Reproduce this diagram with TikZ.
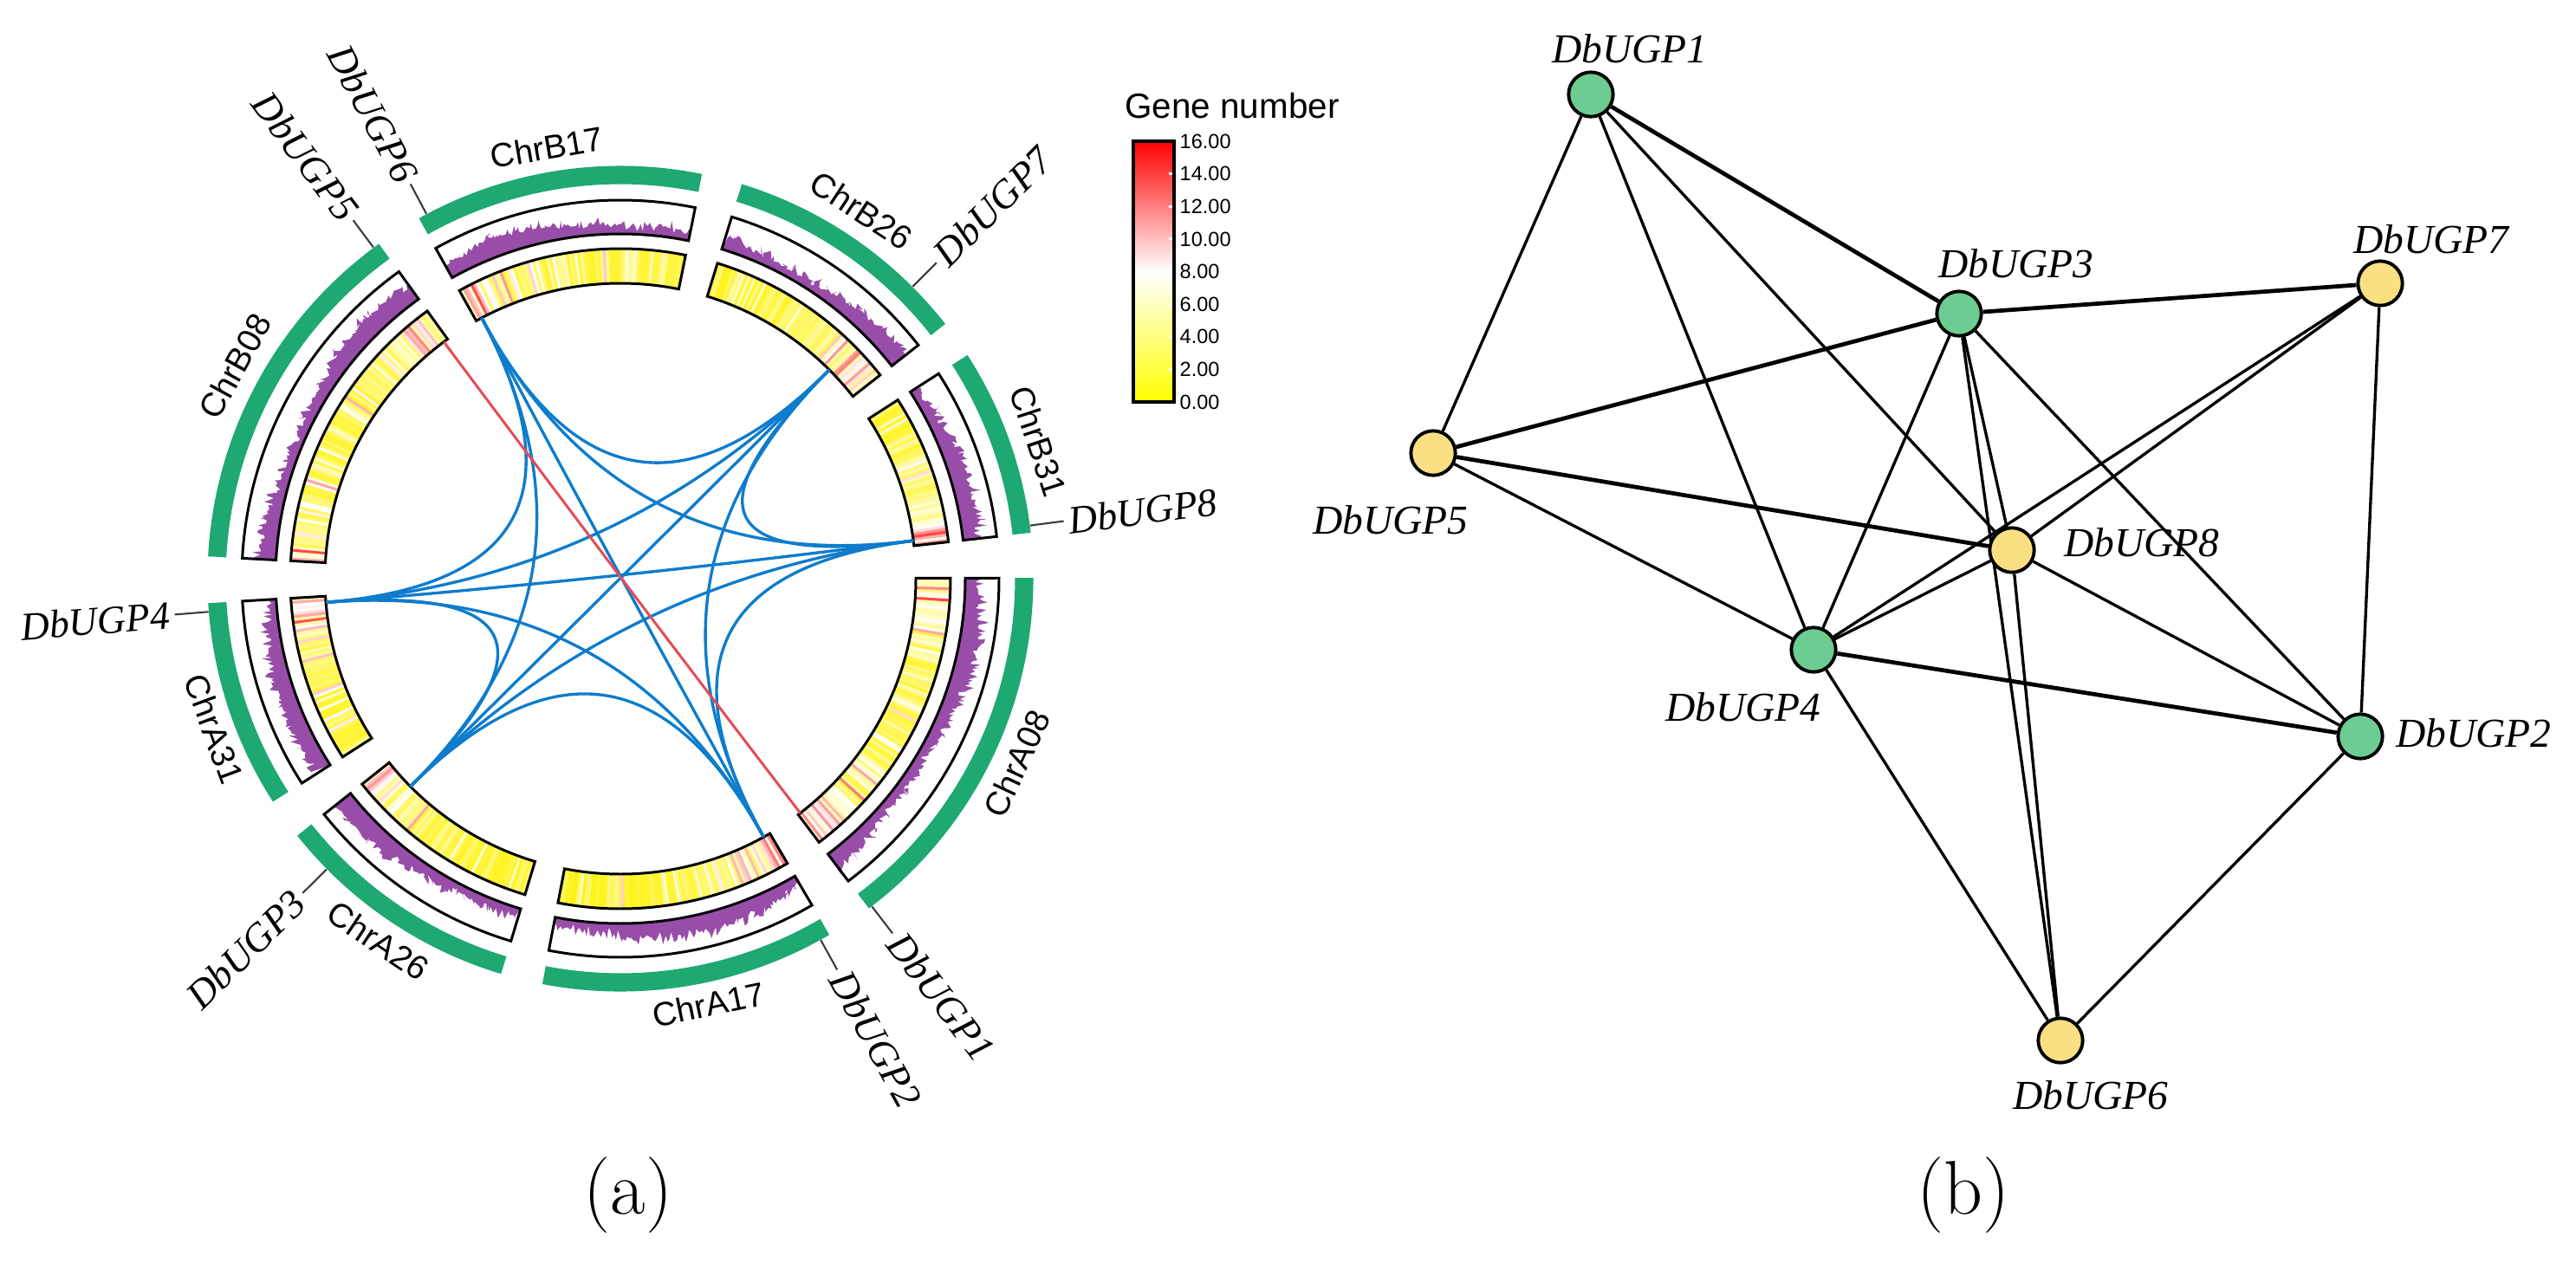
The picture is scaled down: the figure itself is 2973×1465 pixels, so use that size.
\documentclass[tikz,border=0pt]{standalone}
\usepackage{fontspec}
\setsansfont{Liberation Sans}
\newfontfamily\tnr{Liberation Serif}
\usetikzlibrary{calc}
\pgfdeclarelayer{bg}
\pgfdeclarelayer{edges}
\pgfsetlayers{bg,edges,main}
\definecolor{chrgreen}{RGB}{30,168,114}
\definecolor{linkblue}{RGB}{14,124,204}
\definecolor{linkred}{RGB}{228,76,86}
\definecolor{histpurple}{RGB}{152,78,168}
\definecolor{nodegreen}{RGB}{108,204,146}
\definecolor{nodeyellow}{RGB}{250,224,130}
\definecolor{tickgray}{RGB}{60,60,60}

% heat-map track: lo hi hot-at-lo hot-at-hi
\newcommand\heattrack[4]{%
  \pgfmathtruncatemacro\hn{((#2)-(#1))/0.5-1}%
  \foreach \i in {0,...,\hn}{%
    \pgfmathsetmacro\ta{#1+0.5*\i}%
    \pgfmathsetmacro\tb{min(\ta+0.6,#2)}%
    \pgfmathsetmacro\da{\ta-(#1)}%
    \pgfmathsetmacro\db{(#2)-\ta}%
    \pgfmathsetmacro\hv{min(0.86,0.03+0.36*rnd^4+0.3*rnd^9+#3*exp(-\da/11)*(0.2+0.55*rnd)+#4*exp(-\db/11)*(0.2+0.55*rnd))}%
    \ifdim\hv pt<0.5pt
      \pgfmathsetmacro\hw{200*\hv}%
      \fill[white!\hw!yellow] (\ta:341) -- (\ta:381) -- (\tb:381) -- (\tb:341) -- cycle;
    \else
      \pgfmathsetmacro\hw{200*(\hv-0.5)}%
      \fill[red!\hw!white] (\ta:341) -- (\ta:381) -- (\tb:381) -- (\tb:341) -- cycle;
    \fi
  }%
}
% gene-density track: lo hi phase
\newcommand\histtrack[3]{%
  \pgfmathtruncatemacro\pn{((#2)-(#1))/0.3}%
  \fill[histpurple] (#1:398) \foreach \i in {0,...,\pn}{ -- ({#1+0.3*\i}:{398+min(36,9+7*rnd+11*rnd^2+6*sin(2.4*\i+#3))}) } -- (#2:398) arc[start angle=#2, end angle=#1, radius=398] -- cycle;
}
% outline of a track box: lo hi rin rout
\newcommand\trackbox[4]{%
  \draw[boxline] (#1:#3) arc[start angle=#1, end angle=#2, radius=#3] -- (#2:#4) arc[start angle=#2, end angle=#1, radius=#4] -- cycle;
}
% one chromosome: lo hi hotlo hothi phase
\newcommand\chromosome[5]{%
  \heattrack{#1}{#2}{#3}{#4}%
  \histtrack{#1}{#2}{#5}%
  \trackbox{#1}{#2}{341}{381}%
  \trackbox{#1}{#2}{398}{437}%
  \draw[chrarc] (#1:466) arc[start angle=#1, end angle=#2, radius=466];
}
\newcommand\clink[3]{\draw[#1] (#2) .. controls ($(#2)!0.6667!(O)$) and ($(#3)!0.6667!(O)$) .. (#3);}

\begin{document}
\begin{tikzpicture}[x=0.01cm,y=0.01cm,
  boxline/.style={draw=black, line width=0.85pt, line join=miter},
  chrarc/.style={draw=chrgreen, line width=6pt},
  tickline/.style={draw=tickgray, line width=0.6pt},
  bluelink/.style={draw=linkblue, line width=0.95pt},
  redlink/.style={draw=linkred, line width=0.85pt},
  chrlab/.style={font=\sffamily\fontsize{11}{13}\selectfont, inner sep=0pt},
  genelab/.style={font=\tnr\itshape\fontsize{13}{15}\selectfont, inner sep=0pt},
  cbarlab/.style={font=\sffamily\fontsize{6.7}{8}\selectfont, inner sep=0pt, anchor=west},
  gnode/.style={circle, draw=black, line width=1.1pt, minimum size=14.6pt, inner sep=0pt},
  gn/.style={gnode, fill=nodegreen},
  yn/.style={gnode, fill=nodeyellow},
  nlab/.style={font=\tnr\itshape\fontsize{13.5}{15}\selectfont, inner sep=0pt},
  gthin/.style={draw=black, line width=0.95pt},
  gthick/.style={draw=black, line width=1.35pt},
  panel/.style={font=\fontsize{25}{28}\selectfont, inner sep=0pt}]
\useasboundingbox (0,0) rectangle (2973,1465);
\begin{pgfonlayer}{bg}
\fill[white] (0,0) rectangle (2973,1465);
\end{pgfonlayer}
\pgfmathsetseed{4242}

% ================= panel (a): circos =================
\begin{scope}[shift={(716,797)}]
  \coordinate (O) at (0,0);
  \chromosome{78.6}{119.2}{0.2}{1}{200}   % ChrB17
  \chromosome{38.1}{72.9}{1}{0}{90}       % ChrB26
  \chromosome{6.4}{32.8}{1}{0}{30}        % ChrB31
  \chromosome{-53}{0.1}{1}{1}{120}        % ChrA08
  \chromosome{259.1}{300.4}{0}{1}{250}    % ChrA17
  \chromosome{218.5}{253.2}{1}{0}{60}     % ChrA26
  \chromosome{183.4}{212.7}{1}{0}{300}    % ChrA31
  \chromosome{125.8}{176.9}{1}{0.7}{20}   % ChrB08

  % chromosome names
  \node[chrlab, rotate=9.7]   (cB17) at (99.7:505)  {ChrB17};
  \node[chrlab, rotate=-33.2] (cB26) at (56.8:508)  {ChrB26};
  \node[chrlab, rotate=-71.8] (cB31) at (18.2:508)  {ChrB31};
  \node[chrlab, rotate=65]    (cA08) at (-25:505)   {ChrA08};
  \node[chrlab, rotate=11.7]  (cA17) at (-78.3:502) {ChrA17};
  \node[chrlab, rotate=-33.8] (cA26) at (-123.8:503) {ChrA26};
  \node[chrlab, rotate=-69.7] (cA31) at (-159.7:500) {ChrA31};
  \node[chrlab, rotate=61.1]  (cB08) at (151.1:508) {ChrB08};

  % gene loci (link ends)
  \coordinate (g1) at (-52.5:341);
  \coordinate (g2) at (-61:341);
  \coordinate (g3) at (224.7:341);
  \coordinate (g4) at (184.6:341);
  \coordinate (g5) at (126.7:341);
  \coordinate (g6) at (118:341);
  \coordinate (g7) at (45:341);
  \coordinate (g8) at (7.4:341);

  % gene ticks and names
  \foreach \n/\a in {1/-52.5,2/-61,3/224.7,4/184.6,5/126.7,6/118,7/45,8/7.4}{
    \coordinate (ti\n) at (\a:477);
    \coordinate (to\n) at (\a:516);
    \draw[tickline] (ti\n) -- (to\n);
  }
  \node[genelab, anchor=west, rotate=-52.5] (t1) at (-52.5:521) {DbUGP1};
  \node[genelab, anchor=west, rotate=-61]   (t2) at (-61:521)   {DbUGP2};
  \node[genelab, anchor=east, rotate=44.7]  (t3) at (224.7:521) {DbUGP3};
  \node[genelab, anchor=east, rotate=4.6]   (t4) at (184.6:521) {DbUGP4};
  \node[genelab, anchor=east, rotate=-53.3] (t5) at (126.7:521) {DbUGP5};
  \node[genelab, anchor=east, rotate=-62]   (t6) at (118:521)   {DbUGP6};
  \node[genelab, anchor=west, rotate=45]    (t7) at (45:521)    {DbUGP7};
  \node[genelab, anchor=west, rotate=7.4]   (t8) at (7.4:521)   {DbUGP8};

  % collinear links
  \foreach \p/\q in {2/3,2/4,2/6,2/7,2/8,3/4,3/6,3/7,3/8,4/6,4/7,4/8,6/7,6/8,7/8}{
    \clink{bluelink}{g\p}{g\q}
  }
  \clink{redlink}{g5}{g1}
\end{scope}

% colour bar
\shade[bottom color=yellow, top color=red, middle color=white] (1308,1001) rectangle (1355,1302);
\foreach \k in {1,...,7}{
  \draw[white, line width=0.8pt] (1349,{1001+37.625*\k}) -- (1354,{1001+37.625*\k});
}
\draw[black, line width=1pt] (1308,1001) rectangle (1355,1302);
\node[cbarlab] (v16) at (1361,1302) {16.00};
\node[cbarlab] (v14) at (1361,1264.4) {14.00};
\node[cbarlab] (v12) at (1361,1226.8) {12.00};
\node[cbarlab] (v10) at (1361,1189.1) {10.00};
\node[cbarlab] (v8)  at (1361,1151.5) {8.00};
\node[cbarlab] (v6)  at (1361,1113.9) {6.00};
\node[cbarlab] (v4)  at (1361,1076.3) {4.00};
\node[cbarlab] (v2)  at (1361,1038.6) {2.00};
\node[cbarlab] (v0)  at (1361,1001) {0.00};
\node[font=\sffamily\fontsize{11.5}{13}\selectfont, inner sep=0pt] (cbt) at (1422,1343) {Gene number};

\node[panel] (pa) at (725,85) {(a)};

% ================= panel (b): network =================
\node[gn] (n1) at (1836,1356) {};
\node[gn] (n3) at (2261,1103) {};
\node[yn] (n7) at (2747,1138) {};
\node[yn] (n5) at (1654,942) {};
\node[yn] (n8) at (2322,830) {};
\node[gn] (n4) at (2093,715) {};
\node[gn] (n2) at (2724,615) {};
\node[yn] (n6) at (2378,264) {};

\begin{pgfonlayer}{edges}
\foreach \p/\q in {1/5,1/4,1/8,3/4,3/8,3/6,3/2,7/4,7/8,7/2,5/4,8/4,8/6,8/2,4/6,2/6}{
  \draw[gthin] (n\p) -- (n\q);
}
\draw[gthick] (n1) -- (n3);
\draw[gthick] (n3) -- (n7);
\draw[gthick] (n3) -- (n5);
\draw[gthick] (n5) -- (n8);
\draw[gthick] (n4) -- (n2);
\end{pgfonlayer}

\node[nlab] (l1) at (1881,1409) {DbUGP1};
\node[nlab] (l3) at (2327,1161) {DbUGP3};
\node[nlab] (l7) at (2806,1189) {DbUGP7};
\node[nlab] (l5) at (1605,865)  {DbUGP5};
\node[nlab] (l8) at (2472,839)  {DbUGP8};
\node[nlab] (l4) at (2012,649)  {DbUGP4};
\node[nlab] (l2) at (2855,619)  {DbUGP2};
\node[nlab] (l6) at (2413,201)  {DbUGP6};

\node[panel] (pb) at (2266,85) {(b)};
\end{tikzpicture}
\end{document}
